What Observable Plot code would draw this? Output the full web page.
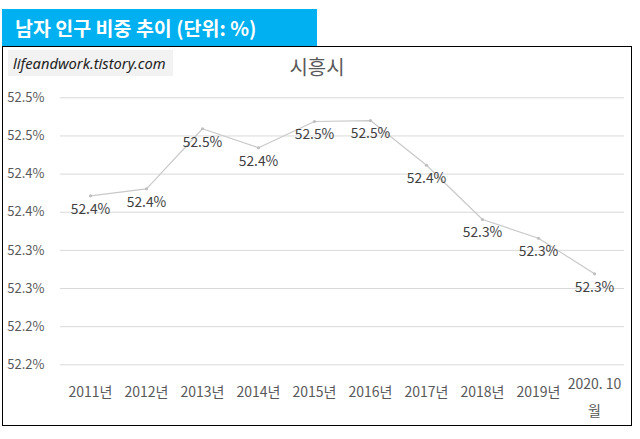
<!DOCTYPE html>
<html>
<head>
<meta charset="utf-8">
<script src="https://cdn.jsdelivr.net/npm/d3@7"></script>
<script src="https://cdn.jsdelivr.net/npm/@observablehq/plot@0.6"></script>
<style>
  html, body { margin: 0; padding: 0; background: #ffffff; }
  #wrap { position: relative; width: 640px; height: 439px; overflow: hidden; font-family: "Noto Sans CJK KR", "Noto Sans", sans-serif; }
  #banner { position: absolute; left: 2px; top: 9px; width: 315px; height: 37px; background: #00B0F0; color: #ffffff;
            font-weight: bold; font-size: 19.5px; line-height: 37px; padding-left: 13px; box-sizing: border-box; white-space: nowrap; }
  #frame { position: absolute; left: 2px; top: 46px; width: 630px; height: 380px; border: 1.5px solid #000; box-sizing: border-box; }
  #mark { position: absolute; left: 8px; top: 50px; width: 165px; height: 26px; background: #F2F2F2; color: #222;
          font-family: "Noto Sans", sans-serif; font-style: italic; font-size: 14.7px; line-height: 26px; padding-left: 5px; box-sizing: border-box; white-space: nowrap; }
  #ctitle { position: absolute; left: 2px; width: 630px; top: 53px; text-align: center; font-size: 20px; color: #595959; line-height: 28px; }
  #chart { position: absolute; left: 0; top: 0; }
</style>
</head>
<body>
<div id="wrap">
  <div id="frame"></div>
  <div id="banner">남자 인구 비중 추이 (단위: %)</div>
  <div id="mark">lifeandwork.tistory.com</div>
  <div id="ctitle">시흥시</div>
  <div id="chart"></div>
</div>
<script>
const categories = ["2011년","2012년","2013년","2014년","2015년","2016년","2017년","2018년","2019년","2020. 10\n월"];
const values = [52.3715, 52.3807, 52.4594, 52.4345, 52.4689, 52.4702, 52.4116, 52.3405, 52.3159, 52.2693];
const yTicks = [52.15, 52.20, 52.25, 52.30, 52.35, 52.40, 52.45, 52.50];
const yTickLabels = ["52.2%","52.2%","52.3%","52.3%","52.4%","52.4%","52.5%","52.5%"];

const data = categories.map((c, i) => ({cat: c, value: values[i]}));
const yLabelMap = new Map(yTicks.map((t, i) => [t, yTickLabels[i]]));

const chart = Plot.plot({
  width: 640,
  height: 439,
  marginLeft: 60,
  marginRight: 16,
  marginTop: 97.3,
  marginBottom: 74.7,
  style: {background: "transparent", fontFamily: "\"Noto Sans CJK KR\", \"Noto Sans\", sans-serif", color: "#595959"},
  x: {type: "point", domain: categories, padding: 0.5, label: null},
  y: {domain: [52.15, 52.50], label: null},
  marks: [
    Plot.gridY(yTicks, {stroke: "#d9d9d9", strokeOpacity: 1, strokeWidth: 1}),
    Plot.axisY({ticks: yTicks, tickSize: 0, tickPadding: 16, fontSize: 13, fill: "#595959", label: null,
                tickFormat: d => yLabelMap.get(d)}),
    Plot.axisX({ticks: categories.slice(0, 9), tickSize: 0, tickPadding: 22.5, fontSize: 14, fill: "#595959", label: null}),
    Plot.text(categories.slice(9), {x: d => d, frameAnchor: "bottom", lineAnchor: "middle", dy: 29, fontSize: 14,
                                    fill: "#595959", lineHeight: 1.9}),
    Plot.line(data, {x: "cat", y: "value", stroke: "#c9c9c9", strokeWidth: 1.2}),
    Plot.dot(data, {x: "cat", y: "value", r: 1.6, fill: "#bfbfbf", stroke: "none"}),
    Plot.text(data, {x: "cat", y: "value", text: d => d.value.toFixed(1) + "%", dy: 13.5,
                     fontSize: 13.8, fill: "#404040"})
  ]
});
document.getElementById("chart").appendChild(chart);
</script>
</body>
</html>
